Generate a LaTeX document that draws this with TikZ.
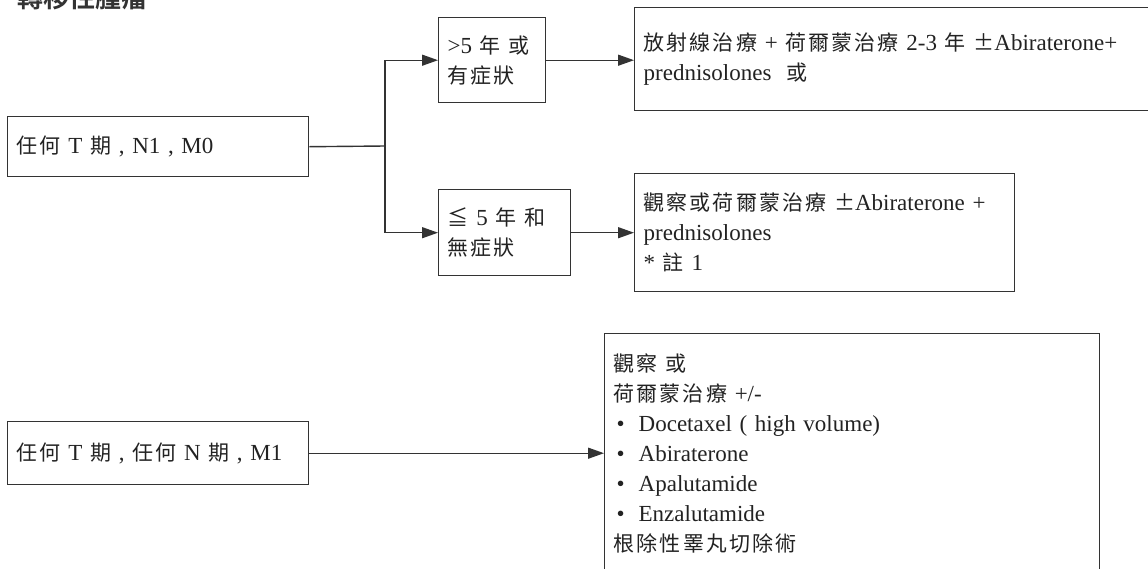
\documentclass[tikz,border=0pt]{standalone}
\usepackage{fontspec}
\setmainfont{Liberation Serif}
\newfontfamily\cjk[BoldFont={Noto Sans CJK TC Bold}]{Noto Sans CJK TC}
\newfontfamily\cjkwide[LetterSpace=10]{Noto Sans CJK TC}
\usetikzlibrary{arrows.meta}
\definecolor{linegray}{HTML}{333333}
\definecolor{inkgray}{HTML}{222222}
\newcommand\lat{\fontsize{23}{30}\selectfont}
\newcommand\zh[1]{{\cjkwide\fontsize{21}{30}\selectfont #1}}
\newcommand\itembullet{\makebox[3pt]{}\makebox[22pt][l]{\textbullet}}
\tikzset{
  frame/.style={draw=linegray, line width=1.4pt, anchor=north west, align=left,
    inner xsep=9pt, inner ysep=0pt, text=inkgray, font=\lat},
  link/.style={draw=linegray, line width=1.4pt},
  arr/.style={link, -{Triangle[length=16pt,width=11pt]}},
  heading/.style={anchor=base west, inner sep=0pt, text=linegray,
    font=\cjk\bfseries\fontsize{26}{30}\selectfont}
}
\begin{document}
\begin{tikzpicture}[x=1pt,y=-1pt]
\useasboundingbox (0,0) rectangle (1148,568);
\clip (0,0) rectangle (1148,568);

\node[heading] (title) at (17,7) {轉移性腫瘤};

% N1 M0 branch
\node[frame, minimum width=301pt, minimum height=60pt, text width=283pt] (stageA) at (7,116)
  {\zh{任何} T \zh{期} , N1 , M0};
\node[frame, minimum width=107pt, minimum height=85pt, text width=89pt] (longer) at (438,17)
  {>5 \zh{年} \zh{或}\\\zh{有症狀}};
\node[frame, minimum width=540pt, minimum height=103pt, text width=522pt] (radio) at (634,7)
  {\zh{放射線治療} + \zh{荷爾蒙治療} 2-3 \zh{年} \zh{±}Abiraterone+\\prednisolones \ \zh{或}};
\node[frame, minimum width=132pt, minimum height=86pt, text width=114pt] (shorter) at (438,189)
  {\zh{≦} 5 \zh{年} \zh{和}\\\zh{無症狀}};
\node[frame, minimum width=380pt, minimum height=118pt, text width=362pt] (observe) at (634,173)
  {\zh{觀察或荷爾蒙治療} \zh{±}Abiraterone +\\prednisolones\\\relax * \zh{註} 1};

\coordinate (fork) at (385,146);
\draw[link] (stageA.east) -- (fork);
\draw[arr] (fork) |- (longer.west);
\draw[arr] (fork) |- (shorter.west);
\draw[arr] (longer.east) -- (longer.east -| radio.west);
\draw[arr] (shorter.east) -- (shorter.east -| observe.west);

% M1 branch
\node[frame, minimum width=301pt, minimum height=63pt, text width=283pt] (stageB) at (7,421)
  {\zh{任何} T \zh{期} , \zh{任何} N \zh{期} , M1};
\node[frame, minimum width=495pt, minimum height=240pt, text width=477pt] (systemic) at (604,333)
  {\zh{觀察 或}\\
   \zh{荷爾蒙治療} +/-\\
   \itembullet Docetaxel ( high volume)\\
   \itembullet Abiraterone\\
   \itembullet Apalutamide\\
   \itembullet Enzalutamide\\
   \zh{根除性睪丸切除術}};
\draw[arr] (stageB.east) -- (stageB.east -| systemic.west);
\end{tikzpicture}
\end{document}
